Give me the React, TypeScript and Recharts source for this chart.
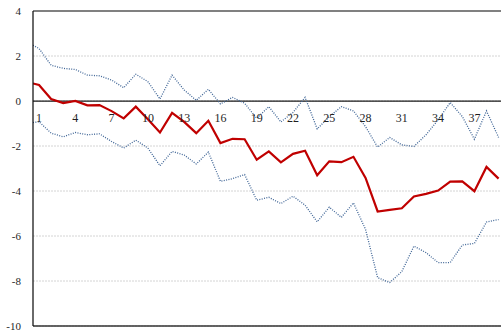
import React from "react";
import {
  LineChart,
  Line,
  XAxis,
  YAxis,
  CartesianGrid,
  ReferenceLine,
} from "recharts";

// periods (first entry is the half-step lead-in at the axis)
const periods = [
  0.5, 1, 2, 3, 4, 5, 6, 7, 8, 9, 10, 11, 12, 13, 14, 15, 16, 17, 18, 19, 20,
  21, 22, 23, 24, 25, 26, 27, 28, 29, 30, 31, 32, 33, 34, 35, 36, 37, 38, 39,
];

const estimate = [
  0.78, 0.71, 0.09, -0.09, 0.0, -0.19, -0.18, -0.45, -0.77, -0.25, -0.81,
  -1.4, -0.53, -0.93, -1.43, -0.88, -1.87, -1.68, -1.7, -2.61, -2.24, -2.73,
  -2.35, -2.21, -3.3, -2.68, -2.72, -2.48, -3.42, -4.91, -4.84, -4.77, -4.24,
  -4.13, -3.98, -3.58, -3.57, -4.01, -2.93, -3.45,
];

const upper = [
  2.48, 2.33, 1.59, 1.45, 1.4, 1.15, 1.12, 0.93, 0.59, 1.19, 0.86, 0.09, 1.15,
  0.49, 0.03, 0.52, -0.13, 0.16, -0.1, -0.77, -0.25, -0.93, -0.51, 0.16, -1.24,
  -0.7, -0.25, -0.44, -1.14, -2.05, -1.62, -1.95, -2.02, -1.5, -0.84, -0.07,
  -0.69, -1.7, -0.44, -1.62,
];

const lower = [
  -0.96, -0.92, -1.43, -1.59, -1.4, -1.5, -1.46, -1.8, -2.09, -1.74, -2.09,
  -2.88, -2.24, -2.4, -2.8, -2.27, -3.57, -3.45, -3.27, -4.41, -4.28, -4.56,
  -4.23, -4.63, -5.37, -4.72, -5.17, -4.53, -5.71, -7.85, -8.07, -7.58, -6.45,
  -6.74, -7.18, -7.18, -6.4, -6.33, -5.38, -5.27,
];

const xTicks = [1, 4, 7, 10, 13, 16, 19, 22, 25, 28, 31, 34, 37];
const yTicks = [-10, -8, -6, -4, -2, 0, 2, 4];

const data = periods.map((p, i) => ({
  period: p,
  estimate: estimate[i],
  upper: upper[i],
  lower: lower[i],
}));

const W = 501;
const H = 333;
const TOP = 11;
const BOTTOM = 7;
const Y_MIN = -10;
const Y_MAX = 4;
const PLOT_H = H - TOP - BOTTOM;
const ZERO_Y = TOP + ((Y_MAX - 0) / (Y_MAX - Y_MIN)) * PLOT_H;

const FONT = "Liberation Serif, DejaVu Serif, serif";

// category labels sit just under the zero line, not at the bottom of the plot
function PeriodTick(props: any) {
  const { x, payload } = props;
  return (
    <text
      x={x}
      y={ZERO_Y + 21}
      textAnchor="middle"
      fill="#1f1f1f"
      style={{ fontFamily: FONT, fontSize: 12 }}
    >
      {payload.value}
    </text>
  );
}

export default function App() {
  return (
    <div
      style={{
        position: "fixed",
        left: 0,
        top: 0,
        width: W,
        height: H,
        overflow: "hidden",
        background: "#fff",
        fontFamily: FONT,
      }}
    >
      <LineChart
        width={W}
        height={H}
        data={data}
        margin={{ top: TOP, right: 0, left: 0, bottom: 0 }}
        style={{ fontFamily: FONT }}
      >
        <CartesianGrid
          vertical={false}
          stroke="#d4d4d4"
          strokeDasharray="2 1"
        />
        <XAxis
          dataKey="period"
          type="number"
          domain={[0.5, 39.2]}
          allowDataOverflow
          ticks={xTicks}
          interval={0}
          height={BOTTOM}
          tickLine={false}
          axisLine={{ stroke: "#333", strokeWidth: 1.5 }}
          tick={<PeriodTick />}
        />
        <YAxis
          domain={[Y_MIN, Y_MAX]}
          ticks={yTicks}
          interval={0}
          width={33}
          tickLine={false}
          tickSize={0}
          tickMargin={12}
          axisLine={{ stroke: "#111", strokeWidth: 1.25 }}
          tick={{ fill: "#1f1f1f", fontSize: 11, style: { fontFamily: FONT } }}
        />
        <ReferenceLine y={Y_MAX} stroke="#808080" strokeWidth={2} />
        <ReferenceLine y={0} stroke="#1a1a1a" strokeWidth={1.25} />
        <Line
          type="linear"
          dataKey="upper"
          stroke="#3f6596"
          strokeWidth={1.3}
          strokeDasharray="1 1.4"
          dot={false}
          isAnimationActive={false}
        />
        <Line
          type="linear"
          dataKey="lower"
          stroke="#3f6596"
          strokeWidth={1.3}
          strokeDasharray="1 1.4"
          dot={false}
          isAnimationActive={false}
        />
        <Line
          type="linear"
          dataKey="estimate"
          stroke="#c00000"
          strokeWidth={2.2}
          dot={false}
          isAnimationActive={false}
        />
      </LineChart>
    </div>
  );
}
